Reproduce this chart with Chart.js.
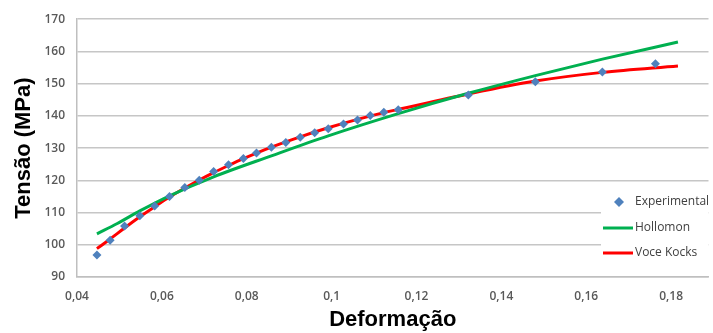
<!DOCTYPE html>
<html lang="pt">
<head>
    <meta charset="UTF-8">
    <title>Tensão x Deformação</title>
    <style>
        body {
            margin: 0;
            padding: 0;
            background-color: #fff;
        }
        canvas {
            display: block;
        }
    </style>
</head>
<body>
    <canvas id="curveChart" width="713" height="333"></canvas>

    <script src="https://cdn.jsdelivr.net/npm/chart.js"></script>
    <script>
        // experimental points
        const strainExp = [0.0447, 0.0478, 0.0512, 0.0548, 0.0583, 0.0618, 0.0654, 0.0688, 0.0722, 0.0757,
            0.0792, 0.0823, 0.0858, 0.0892, 0.0926, 0.0960, 0.0992, 0.1028, 0.1061, 0.1091,
            0.1123, 0.1157, 0.1322, 0.1480, 0.1638, 0.1763];
        const stressExp = [96.8, 101.4, 105.8, 109.0, 112.0, 115.0, 117.8, 120.0, 122.7, 124.8,
            126.8, 128.5, 130.3, 131.7, 133.4, 134.8, 136.0, 137.5, 138.7, 140.1,
            141.1, 141.9, 146.5, 150.6, 153.6, 156.2];

        // Hollomon fit curve
        const strainHol = [0.0447, 0.0495, 0.0548, 0.0618, 0.0722, 0.0858, 0.0992, 0.1157, 0.1322, 0.1480, 0.1638, 0.1816];
        const stressHol = [103.4, 106.6, 110.5, 115.2, 121.1, 127.6, 133.8, 140.7, 147.0, 152.5, 157.6, 162.9];

        // Voce Kocks fit curve
        const strainVK = [0.0447, 0.0478, 0.0512, 0.0548, 0.0583, 0.0618, 0.0654, 0.0688, 0.0722, 0.0757, 0.0792,
            0.0858, 0.0926, 0.0992, 0.1061, 0.1123, 0.1157, 0.1322, 0.1480, 0.1638, 0.1816];
        const stressVK = [98.8, 101.8, 105.2, 108.7, 111.8, 114.8, 117.6, 120.1, 122.4, 124.6, 126.7,
            130.3, 133.5, 136.3, 138.9, 141.0, 142.0, 146.8, 150.8, 153.5, 155.5];

        const xTicks = [0.04, 0.06, 0.08, 0.1, 0.12, 0.14, 0.16, 0.18];
        const yTicks = [90, 100, 110, 120, 130, 140, 150, 160, 170];

        const toPoints = (xs, ys) => xs.map((x, i) => ({ x: x, y: ys[i] }));

        const tickFont = { family: 'Open Sans', size: 12, weight: '600' };
        const titleFont = { family: 'Liberation Sans', size: 22, weight: 'bold' };

        // legend box drawn inside the plot, right side
        const boxLegend = {
            id: 'boxLegend',
            afterDatasetsDraw(chart) {
                const ctx = chart.ctx;
                const area = chart.chartArea;
                const x0 = 601, y0 = 186;
                ctx.save();
                ctx.fillStyle = '#fff';
                ctx.fillRect(x0, y0, area.right - x0, 82);
                ctx.font = '12px "Open Sans"';
                ctx.textBaseline = 'middle';
                const rows = [202, 228, 253];
                chart.data.datasets.forEach((ds, i) => {
                    const y = rows[i];
                    if (ds.showLine) {
                        ctx.strokeStyle = ds.borderColor;
                        ctx.lineWidth = 3;
                        ctx.beginPath();
                        ctx.moveTo(603, y);
                        ctx.lineTo(633, y);
                        ctx.stroke();
                    } else {
                        ctx.fillStyle = ds.pointBackgroundColor;
                        ctx.beginPath();
                        ctx.moveTo(619, y - 5);
                        ctx.lineTo(624, y);
                        ctx.lineTo(619, y + 5);
                        ctx.lineTo(614, y);
                        ctx.closePath();
                        ctx.fill();
                    }
                    ctx.fillStyle = '#404040';
                    ctx.fillText(ds.label, 635, y);
                });
                ctx.restore();
            }
        };

        const ctx = document.getElementById('curveChart').getContext('2d');
        new Chart(ctx, {
            type: 'scatter',
            data: {
                datasets: [{
                    label: 'Experimental',
                    data: toPoints(strainExp, stressExp),
                    pointStyle: 'rectRot',
                    pointRadius: 4.5,
                    pointBackgroundColor: '#4F81BD',
                    pointBorderColor: '#4F81BD',
                    pointBorderWidth: 0,
                    showLine: false
                }, {
                    label: 'Hollomon',
                    data: toPoints(strainHol, stressHol),
                    showLine: true,
                    borderColor: '#00B050',
                    borderWidth: 3,
                    pointRadius: 0,
                    cubicInterpolationMode: 'monotone'
                }, {
                    label: 'Voce Kocks',
                    data: toPoints(strainVK, stressVK),
                    showLine: true,
                    borderColor: '#FF0000',
                    borderWidth: 3,
                    pointRadius: 0,
                    cubicInterpolationMode: 'monotone'
                }]
            },
            options: {
                responsive: false,
                animation: false,
                layout: { padding: { top: 17, right: 0, left: 0, bottom: 0 } },
                plugins: {
                    legend: { display: false },
                    tooltip: { enabled: false }
                },
                scales: {
                    x: {
                        type: 'linear',
                        min: 0.04,
                        max: 0.1888,
                        afterBuildTicks: axis => { axis.ticks = xTicks.map(v => ({ value: v })); },
                        afterFit: axis => { axis.height = 56; },
                        grid: { display: false, drawTicks: false },
                        border: { display: true, color: '#BFBFBF', width: 1.5 },
                        ticks: {
                            font: tickFont,
                            color: '#595959',
                            padding: 12,
                            maxRotation: 0,
                            callback: v => String(Math.round(v * 100) / 100).replace('.', ',')
                        },
                        title: {
                            display: true,
                            text: 'Deformação',
                            font: titleFont,
                            color: '#000',
                            padding: { top: 0, bottom: 0 }
                        }
                    },
                    y: {
                        min: 90,
                        max: 170,
                        afterBuildTicks: axis => { axis.ticks = yTicks.map(v => ({ value: v })); },
                        afterFit: axis => { axis.width = 77; },
                        grid: { color: '#C6C6C6', lineWidth: 1.5, drawTicks: false },
                        border: { display: true, color: '#BFBFBF', width: 1.5 },
                        ticks: {
                            font: tickFont,
                            color: '#595959',
                            padding: 12
                        },
                        title: {
                            display: true,
                            text: 'Tensão (MPa)',
                            font: titleFont,
                            color: '#000',
                            padding: { top: 11, bottom: 4 }
                        }
                    }
                }
            },
            plugins: [boxLegend]
        });
    </script>
</body>
</html>
